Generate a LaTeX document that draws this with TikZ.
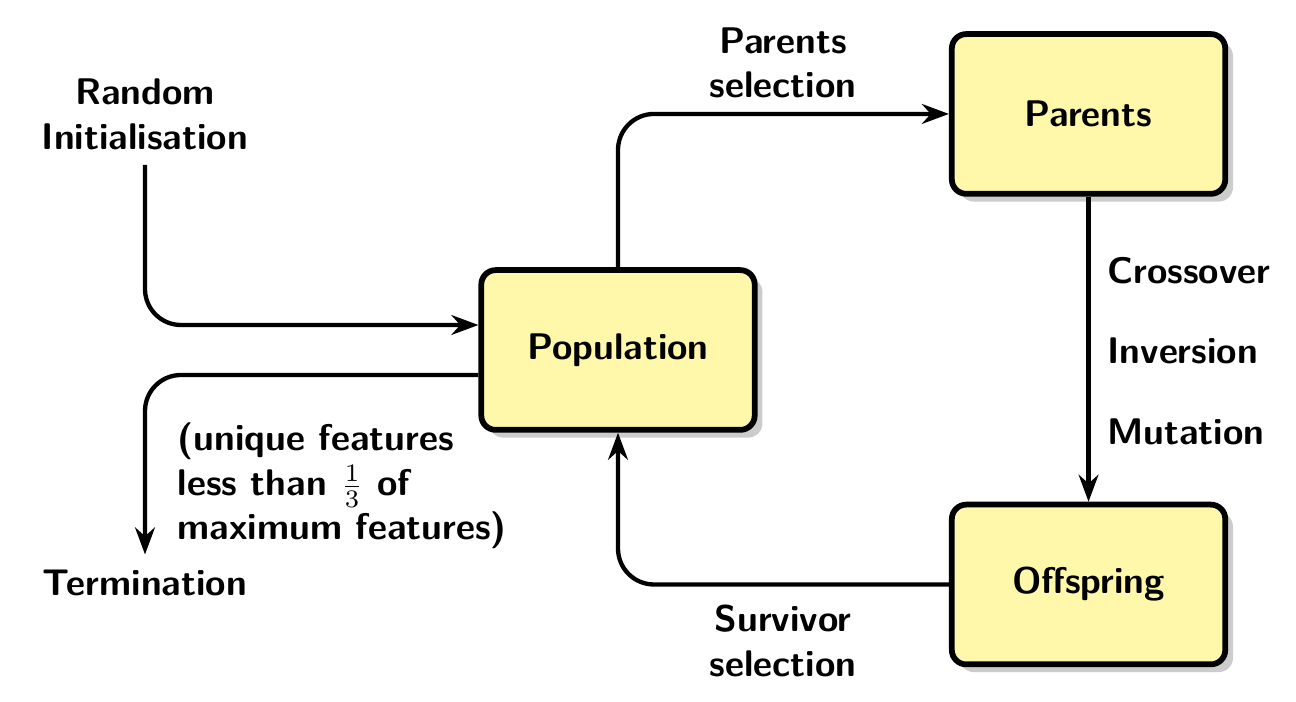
\documentclass[tikz,border=0pt]{standalone}
\usetikzlibrary{shadows,arrows.meta}
\definecolor{boxyellow}{RGB}{255,247,170}

\begin{document}
\begin{tikzpicture}[font=\sffamily\bfseries\fontsize{10.3}{12.4}\selectfont,
  stage/.style={draw,ultra thick,rounded corners=4pt,fill=boxyellow,
    minimum width=2.67cm,minimum height=1.56cm,
    drop shadow={fill=black!40,opacity=0.5}},
  link/.style={very thick,rounded corners=10pt,-{Stealth[length=7.5pt,width=5.5pt]}}]

\useasboundingbox (0,0) rectangle (12.656,6.855);

\node[stage] (pop) at (6.035,3.437) {Population};
\node[stage] (par) at (10.63,5.742) {Parents};
\node[stage] (off) at (10.63,1.147) {Offspring};

\node[align=center,anchor=south,inner sep=4pt] (init) at (1.416,5.244) {Random\\Initialisation};
\node[anchor=north,inner sep=4pt] (term) at (1.416,1.44) {Termination};

\draw[link] (init.south) |- ([yshift=0.244cm]pop.west);
\draw[link] ([yshift=-0.244cm]pop.west) -| (term.north);
\draw[link] (pop.north) |- (par.west);
\draw[link] (par.south) -- (off.north);
\draw[link] (off.west) -| (pop.south);

\node[align=center] (psel) at (7.646,6.24) {Parents\\selection};
\node[align=center] (ssel) at (7.646,0.596) {Survivor\\selection};
\node[align=left,anchor=west] (cond) at (1.61,2.109) {(unique features\\less than $\frac{1}{3}$ of\\maximum features)};

\node[anchor=west] (cross) at (10.69,4.209) {Crossover};
\node[anchor=west] (inv) at (10.69,3.428) {Inversion};
\node[anchor=west] (mut) at (10.69,2.637) {Mutation};

\end{tikzpicture}
\end{document}
